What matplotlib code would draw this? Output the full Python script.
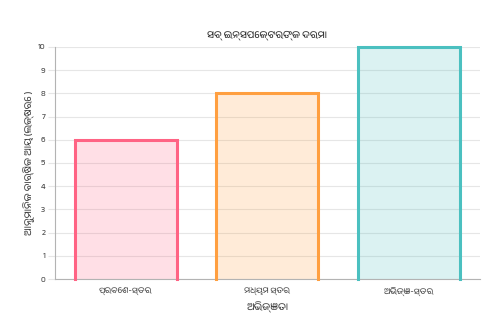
import matplotlib
matplotlib.use("Agg")
import matplotlib.pyplot as plt
from matplotlib import font_manager
import numpy as np

title = "ସବ୍ ଇନ୍ସପେକ୍ଟରଙ୍କ ଦରମା"
x_label = "ଅଭିଜ୍ଞତା"
y_label = "ଆନୁମାନିକ ବାର୍ଷିକ ଆୟ (ଲକ୍ଷରେ )"
categories = ["ପ୍ରବେଶ-ସ୍ତର", "ମଧ୍ୟମ ସ୍ତର", "ଅଭିଜ୍ଞ-ସ୍ତର"]
values = [6, 8, 10]
edge_colors = ["#ff6384", "#ff9f40", "#4bc0c0"]
fill_colors = [(1.0, 0.388, 0.518, 0.2), (1.0, 0.624, 0.251, 0.2), (0.294, 0.753, 0.753, 0.2)]
y_ticks = list(range(0, 11))

# pick a font with Odia glyphs if present
fams = []
for f in font_manager.fontManager.ttflist:
    n = f.name.lower()
    if "oriya" in n or "odia" in n:
        fams.append(f.name)
fams = list(dict.fromkeys(fams)) + ["DejaVu Sans"]
plt.rcParams["font.family"] = fams

fig = plt.figure(figsize=(5.04, 3.35), dpi=100)
ax = fig.add_axes([0.109, 0.167, 0.843, 0.693])

x = np.arange(len(categories))
width = 0.72
ax.bar(x, values, width=width, color=fill_colors, edgecolor="none", zorder=2)
for xi, v, ec in zip(x, values, edge_colors):
    l, r = xi - width / 2, xi + width / 2
    ax.plot([l, l, r, r], [0, v, v, 0], color=ec, lw=2.2, solid_joinstyle="miter", zorder=3, clip_on=False)

ax.set_xlim(-0.5, len(categories) - 0.5)
ax.set_ylim(0, 10)
ax.set_yticks(y_ticks)
ax.set_xticks(x)
ax.set_xticklabels(categories)
ax.grid(axis="y", color="#e6e6e6", lw=0.8, zorder=0)
ax.set_axisbelow(True)
ax.tick_params(axis="y", length=5, color="#e6e6e6", labelsize=6, labelcolor="#555555", pad=2)
ax.tick_params(axis="x", length=0, labelsize=6, labelcolor="#555555", pad=6)
for s in ["top", "right"]:
    ax.spines[s].set_visible(False)
for s in ["left", "bottom"]:
    ax.spines[s].set_color("#b3b3b3")
    ax.spines[s].set_linewidth(0.8)

ax.set_title(title, fontsize=7, color="#333333", pad=7)
ax.set_xlabel(x_label, fontsize=7, color="#444444", labelpad=4)
ax.set_ylabel(y_label, fontsize=7, color="#444444", labelpad=2)

fig.savefig("out.png", dpi=100, facecolor="white")
